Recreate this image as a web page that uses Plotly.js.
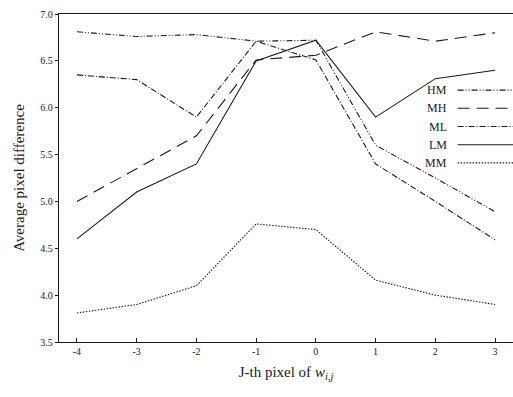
<!DOCTYPE html>
<html><head><meta charset="utf-8">
<script src="https://cdn.plot.ly/plotly-3.0.1.min.js"></script>
<style>html,body{margin:0;padding:0;background:#fff}#c{width:513px;height:397px}</style>
</head><body><div id="c"></div>
<script>
const xVals = [-4, -3, -2, -1, 0, 1, 2, 3];
const seriesNames = ["HM", "MH", "ML", "LM", "MM"];
const HM = [6.81, 6.76, 6.78, 6.71, 6.72, 5.6, 5.25, 4.89];
const MH = [5.0, 5.35, 5.7, 6.51, 6.56, 6.81, 6.71, 6.8];
const ML = [6.35, 6.3, 5.9, 6.71, 6.51, 5.4, 5.0, 4.59];
const LM = [4.6, 5.1, 5.4, 6.5, 6.72, 5.9, 6.31, 6.4];
const MM = [3.81, 3.9, 4.1, 4.76, 4.7, 4.16, 4.0, 3.9];
const yTicks = [3.5, 4.0, 4.5, 5.0, 5.5, 6.0, 6.5, 7.0];

const dashes = {
  HM: "6px,2px,1px,2px,1px,2px",
  MH: "12px,7px",
  ML: "6px,2px,1px,2px",
  LM: "solid",
  MM: "1.5px,1.5px"
};
const data = {HM, MH, ML, LM, MM};
const col = "#1a1a1a";
const traces = seriesNames.map(n => ({
  x: xVals, y: data[n], name: n, type: "scatter", mode: "lines",
  line: {color: col, width: 1.1, dash: dashes[n]}, showlegend: false
}));

const font = {family: "Liberation Serif, Times New Roman, serif", color: col};
const annotations = [], shapes = [];
const legTop = 0.768, legStep = 0.0555;
seriesNames.forEach((n, i) => {
  const yy = legTop - i * legStep;
  annotations.push({xref: "paper", yref: "paper", x: 0.86, y: yy, xanchor: "right", yanchor: "middle",
    text: n, showarrow: false, font: Object.assign({size: 12}, font)});
  shapes.push({type: "line", xref: "paper", yref: "paper", x0: 0.878, x1: 1.0, y0: yy, y1: yy,
    line: {color: col, width: 1.1, dash: dashes[n]}});
});

const layout = {
  width: 513, height: 397,
  margin: {l: 59, r: 0, t: 14, b: 55},
  paper_bgcolor: "#fff", plot_bgcolor: "#fff",
  font: Object.assign({size: 10}, font),
  xaxis: {
    range: [-4.3, 3.3], tickvals: xVals, ticktext: xVals.map(String),
    showgrid: false, zeroline: false, showline: true, linecolor: col, linewidth: 1.3,
    mirror: true, ticks: "inside", ticklen: 4, tickcolor: col,
    tickfont: Object.assign({size: 10}, font),
    title: {text: "J-th pixel of <i>w</i><sub><i>i,j</i></sub>", font: Object.assign({size: 15}, font), standoff: 10}
  },
  yaxis: {
    range: [3.5, 7.0], tickvals: yTicks, ticktext: yTicks.map(v => v.toFixed(1)),
    showgrid: false, zeroline: false, showline: true, linecolor: col, linewidth: 1.3,
    mirror: false, ticks: "outside", ticklen: 3, tickcolor: col,
    tickfont: Object.assign({size: 10}, font),
    title: {text: "Average pixel difference", font: Object.assign({size: 15}, font), standoff: 12}
  },
  annotations, shapes
};
Plotly.newPlot("c", traces, layout, {displayModeBar: false, staticPlot: true});
</script></body></html>
